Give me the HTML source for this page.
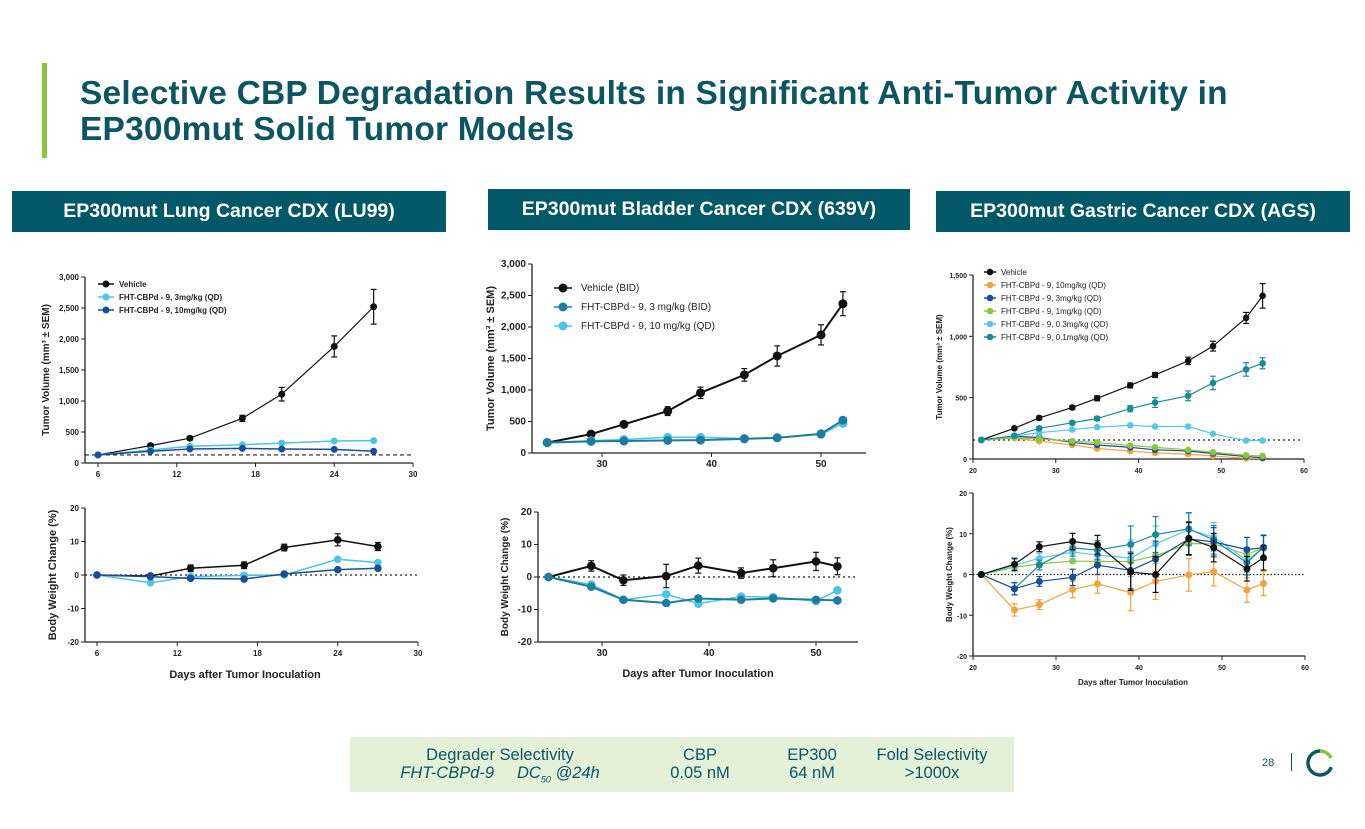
<!DOCTYPE html>
<html><head><meta charset="utf-8">
<style>
body{margin:0;width:1365px;height:829px;background:#fff;font-family:"Liberation Sans",sans-serif;overflow:hidden;position:relative}
.abs{position:absolute}
.title{left:80px;top:76px;font-size:33.5px;font-weight:bold;color:#0d5561;line-height:36px;letter-spacing:0.2px}
.hdr{background:#035868;color:#fff;font-weight:bold;font-size:19.5px;text-align:center;line-height:41px;height:41px}
svg{position:absolute;left:0;top:0}
</style></head><body>
<div class="abs" style="left:42px;top:63px;width:5px;height:95px;background:#8cc63f"></div>
<div class="abs title">Selective CBP Degradation Results in Significant Anti-Tumor Activity in<br>EP300mut Solid Tumor Models</div>
<div class="abs hdr" style="left:12px;top:191px;width:434px">EP300mut Lung Cancer CDX (LU99)</div>
<div class="abs hdr" style="left:488px;top:189px;width:422px">EP300mut Bladder Cancer CDX (639V)</div>
<div class="abs hdr" style="left:936px;top:191px;width:414px">EP300mut Gastric Cancer CDX (AGS)</div>
<div class="abs" style="left:350px;top:737px;width:664px;height:55px;background:#e4f1d9;color:#0d5561;font-size:16.5px">
 <div class="abs" style="left:0;width:300px;top:9px;text-align:center">Degrader Selectivity</div>
 <div class="abs" style="left:0;width:300px;top:27px;text-align:center;font-style:italic">FHT-CBPd-9 &nbsp;&nbsp;&nbsp; DC<sub style="font-size:9px">50</sub> @24h</div>
 <div class="abs" style="left:300px;width:100px;top:9px;text-align:center;line-height:18px">CBP<br>0.05 nM</div>
 <div class="abs" style="left:412px;width:100px;top:9px;text-align:center;line-height:18px">EP300<br>64 nM</div>
 <div class="abs" style="left:515px;width:134px;top:9px;text-align:center;line-height:18px">Fold Selectivity<br>&gt;1000x</div>
</div>
<div class="abs" style="left:1262px;top:757px;font-size:11px;color:#0d5561">28</div>
<div class="abs" style="left:1291px;top:753px;width:1px;height:18px;background:#0d5561"></div>
<svg class="abs" style="left:1304px;top:747px" width="32" height="32"><circle cx="16" cy="16" r="12" fill="none" stroke="#0d5561" stroke-width="3.5" stroke-dasharray="55 30" transform="rotate(20 16 16)"/><path d="M16 4 A12 12 0 0 1 27 11" fill="none" stroke="#8cc63f" stroke-width="3.5"/></svg>
<svg id="ch" width="1365" height="829"></svg>
<script>
// Lung LU99
const lungDays=[6,10,13,17,20,24,27];
const lungTvVeh=[130,280,400,720,1110,1880,2520];
const lungTvVehErr=[0,30,30,50,110,170,280];
const lungTv3=[130,210,270,295,320,355,360];
const lungTv10=[130,190,225,235,225,220,190];
const lungBwVeh=[0,-0.3,2,2.9,8.2,10.5,8.5];
const lungBwVehErr=[0,0.5,1,1,1,1.8,1.2];
const lungBw3=[0,-2.3,-0.5,-0.1,0,4.7,3.7];
const lungBw10=[0,-0.5,-1,-1.2,0.3,1.6,2];
// Bladder 639V
const bladDays=[25,29,32,36,39,43,46,50,52];
const bladTvVeh=[165,300,455,665,955,1240,1540,1875,2370];
const bladTvVehErr=[0,20,40,70,90,100,160,160,190];
const bladTv3=[165,185,190,200,205,225,240,305,520];
const bladTv10=[165,195,215,250,250,230,245,295,470];
const bladBwVeh=[0,3.4,-1,0.3,3.5,1.2,2.7,4.8,3.3];
const bladBwVehErr=[0,1.6,1.6,3.6,2.3,1.6,2.6,2.8,2.6];
const bladBw3=[0,-3,-7,-8,-6.6,-7,-6.6,-7,-7.2];
const bladBw10=[0,-2.3,-7,-5.3,-8.2,-6,-6.2,-7.4,-4.1];
// Gastric AGS
const gasDays=[21,25,28,32,35,39,42,46,49,53,55];
const gasTvVeh=[155,250,335,420,495,600,685,800,920,1150,1330];
const gasTvVehErr=[0,10,15,15,20,20,20,30,40,45,100];
const gasTv10=[155,170,145,115,85,65,50,40,25,5,5];
const gasTv3=[155,185,175,135,115,95,75,65,45,20,10];
const gasTv1=[155,175,165,145,135,110,95,75,55,30,25];
const gasTv03=[155,185,215,240,260,275,265,265,205,150,150];
const gasTv01=[155,190,250,295,330,410,460,515,620,730,780];
const gasTv01Err=[0,10,15,15,15,25,40,40,55,55,45];
const gasBwVeh=[0,2.5,6.8,8.1,7.3,0.6,0,8.9,6.6,1.4,4.1];
const gasBw10=[0,-8.7,-7.4,-3.7,-2.3,-4.4,-1.7,-0.1,0.7,-3.8,-2.2];
const gasBw3=[0,-3.5,-1.7,-0.7,2.3,1,3.8,8.7,8,6.1,6.6];
const gasBw1=[0,1.8,2.6,3.3,3.2,3.2,4.6,7.6,7.5,4.9,6.5];
const gasBw03=[0,2.2,4,5.5,4.8,4,7.5,11,9.2,3.5,6.5];
const gasBw01=[0,-3.5,2.3,6.5,6,7.4,9.8,11.2,8.5,2.9,6.7];
const gasBwErr=[0,1.5,1.2,2,2.3,4.5,4.4,4,3.5,3,3];

const NS='http://www.w3.org/2000/svg';
const svg=document.getElementById('ch');
function el(tag,attrs,parent){const e=document.createElementNS(NS,tag);for(const k in attrs)e.setAttribute(k,attrs[k]);(parent||svg).appendChild(e);return e;}
function txt(x,y,s,size,anchor,parent,extra){const t=el('text',Object.assign({x:x,y:y,'font-size':size,'text-anchor':anchor||'middle','font-family':'Liberation Sans, sans-serif','font-weight':'bold',fill:'#222'},extra||{}),parent);t.textContent=s;return t;}

function chart(c){
  const g=el('g',{});
  
  
  const sx=v=>c.x0+(v-c.d0)/(c.d1-c.d0)*(c.x1-c.x0);
  const sy=v=>c.y0+(v-c.v0)/(c.v1-c.v0)*(c.y1-c.y0);
  const fs=c.fs||9;
  el('line',{x1:c.ax,y1:c.y0,x2:c.ax,y2:c.y1,stroke:'#222','stroke-width':1.3},g);
  el('line',{x1:c.ax,y1:c.axy,x2:c.xend,y2:c.axy,stroke:'#222','stroke-width':1.3},g);
  c.yt.forEach((v,i)=>{const y=sy(v);el('line',{x1:c.ax-4,y1:y,x2:c.ax,y2:y,stroke:'#222'},g);txt(c.ax-6,y+3,c.ytl[i],fs,'end',g);});
  c.xt.forEach(v=>{const x=sx(v);el('line',{x1:x,y1:c.axy,x2:x,y2:c.axy+4,stroke:'#222'},g);txt(x,c.axy+14,String(v),fs,'middle',g);});
  if(c.ref!==undefined){const y=sy(c.ref);el('line',{x1:c.ax,y1:y,x2:c.refEnd||c.xend,y2:y,stroke:'#222','stroke-dasharray':c.refDash||'2,3','stroke-width':1.2},g);}
  c.series.forEach(s=>{
    const sg=el('g',{},g);
    
    
    const pts=s.vals.map((v,i)=>sx(c.days[i])+','+sy(v)).join(' ');
    el('polyline',{points:pts,fill:'none',stroke:s.color,'stroke-width':s.w||1.5},sg);
    s.vals.forEach((v,i)=>{
      const x=sx(c.days[i]),y=sy(v);
      if(s.err&&s.err[i]>0){el('line',{x1:x,y1:sy(v-s.err[i]),x2:x,y2:sy(v+s.err[i]),stroke:s.color,'stroke-width':1.2},sg);
        [v-s.err[i],v+s.err[i]].forEach(e=>el('line',{x1:x-3,y1:sy(e),x2:x+3,y2:sy(e),stroke:s.color,'stroke-width':1.2},sg));}
      const m=el('circle',{cx:x,cy:y,r:s.r||c.r||4,fill:s.color},sg);
      
      
    });
  });
  if(c.ylab){txt(0,0,c.ylab,c.ylfs||10,'middle',g,{transform:'translate('+c.ylx+','+((c.y0+c.y1)/2)+') rotate(-90)'});}
  if(c.xlab){txt(c.xlx,c.xly,c.xlab,c.xlfs||11,'middle',g);}
  if(c.legend){c.legend.forEach((l,i)=>{const y=c.lgy+i*c.lgdy;
    el('line',{x1:c.lgx,y1:y,x2:c.lgx+(c.lgw||16),y2:y,stroke:l[1],'stroke-width':1.5},g);
    el('circle',{cx:c.lgx+(c.lgw||16)/2,cy:y,r:c.r||4,fill:l[1]},g);
    const t=txt(c.lgx+(c.lgw||16)+c.lgtx,y+3,l[0],c.lgfs||8,'start',g,{'font-weight':c.lgbold?'bold':'normal'});
    
    
  });}
}
const BK='#111',LB='#4fc3e6',NV='#1a4f98',TL='#1c7d9e',OR='#f0a43c',GR='#8cc63f',LB2='#5cc6ea',TQ='#198a98';

chart({name:'lung-tumor-volume-chart',days:lungDays,d0:6,d1:30,x0:98,x1:413,v0:0,v1:3000,y0:463,y1:277,ax:85,axy:463,xend:413,
 yt:[0,500,1000,1500,2000,2500,3000],ytl:['0','500','1,000','1,500','2,000','2,500','3,000'],xt:[6,12,18,24,30],fs:8,ref:130,refDash:'4,3',
 series:[{name:'lung-vehicle',vals:lungTvVeh,err:lungTvVehErr,color:BK,w:1.2},{name:'lung-3mg',vals:lungTv3,color:LB},{name:'lung-10mg',vals:lungTv10,color:NV}],
 ylab:'Tumor Volume (mm³ ± SEM)',ylx:49,ylfs:10,legend:[['Vehicle',BK],['FHT-CBPd - 9, 3mg/kg (QD)',LB],['FHT-CBPd - 9, 10mg/kg (QD)',NV]],lgx:98,lgy:284,lgdy:13,lgtx:5,lgfs:8,lgbold:1,r:3.5});
chart({name:'lung-body-weight-chart',days:lungDays,d0:6,d1:30,x0:97,x1:418,v0:20,v1:-20,y0:508,y1:642,ax:85,axy:642,xend:418,
 yt:[20,10,0,-10,-20],ytl:['20','10','0','-10','-20'],xt:[6,12,18,24,30],fs:8,ref:0,
 series:[{name:'lung-bw-vehicle',vals:lungBwVeh,err:lungBwVehErr,color:BK},{name:'lung-bw-3mg',vals:lungBw3,color:LB},{name:'lung-bw-10mg',vals:lungBw10,color:NV}],
 ylab:'Body Weight Change (%)',ylx:56,ylfs:11,xlab:'Days after Tumor Inoculation',xlx:245,xly:678,xlfs:11,r:3.8});
chart({name:'bladder-tumor-volume-chart',days:bladDays,d0:30,d1:50,x0:602,x1:821,v0:0,v1:3000,y0:453,y1:264,ax:532,axy:453,xend:866,
 yt:[0,500,1000,1500,2000,2500,3000],ytl:['0','500','1,000','1,500','2,000','2,500','3,000'],xt:[30,40,50],fs:10,
 series:[{name:'bladder-vehicle',vals:bladTvVeh,err:bladTvVehErr,color:BK,w:2},{name:'bladder-10mg',vals:bladTv10,color:LB},{name:'bladder-3mg',vals:bladTv3,color:TL,w:2}],
 ylab:'Tumor Volume (mm³ ± SEM)',ylx:494,ylfs:11,legend:[['Vehicle (BID)',BK],['FHT-CBPd - 9, 3 mg/kg (BID)',TL],['FHT-CBPd - 9, 10 mg/kg (QD)',LB]],lgx:554,lgy:288,lgdy:19,lgw:18,lgtx:9,lgfs:10,r:4.5});
chart({name:'bladder-body-weight-chart',days:bladDays,d0:30,d1:50,x0:602,x1:816,v0:20,v1:-20,y0:512,y1:642,ax:538,axy:642,xend:858,
 yt:[20,10,0,-10,-20],ytl:['20','10','0','-10','-20'],xt:[30,40,50],fs:10,ref:0,
 series:[{name:'bladder-bw-vehicle',vals:bladBwVeh,err:bladBwVehErr,color:BK,w:2},{name:'bladder-bw-10mg',vals:bladBw10,color:LB},{name:'bladder-bw-3mg',vals:bladBw3,color:TL,w:2}],
 ylab:'Body Weight Change (%)',ylx:508,ylfs:10,xlab:'Days after Tumor Inoculation',xlx:698,xly:677,xlfs:11,r:4.3});
chart({name:'gastric-tumor-volume-chart',days:gasDays,d0:20,d1:60,x0:973,x1:1304,v0:0,v1:1500,y0:459,y1:275,ax:973,axy:459,xend:1304,
 yt:[0,500,1000,1500],ytl:['0','500','1,000','1,500'],xt:[20,30,40,50,60],fs:7,ref:155,refEnd:1300,
 series:[{name:'gastric-vehicle',vals:gasTvVeh,err:gasTvVehErr,color:BK,w:1.2},{name:'gastric-10mg',vals:gasTv10,color:OR,w:1.2},{name:'gastric-3mg',vals:gasTv3,color:NV,w:1.2},{name:'gastric-1mg',vals:gasTv1,color:GR,w:1.2},{name:'gastric-0.3mg',vals:gasTv03,color:LB2,w:1.2},{name:'gastric-0.1mg',vals:gasTv01,err:gasTv01Err,color:TQ,w:1.2}],
 ylab:'Tumor Volume (mm³ ± SEM)',ylx:942,ylfs:8,legend:[['Vehicle',BK],['FHT-CBPd - 9, 10mg/kg (QD)',OR],['FHT-CBPd - 9, 3mg/kg (QD)',NV],['FHT-CBPd - 9, 1mg/kg (QD)',GR],['FHT-CBPd - 9, 0.3mg/kg (QD)',LB2],['FHT-CBPd - 9, 0.1mg/kg (QD)',TQ]],lgx:984,lgy:272,lgdy:13,lgw:12,lgtx:5,lgfs:8,r:3.3});
chart({name:'gastric-body-weight-chart',days:gasDays,d0:20,d1:60,x0:973,x1:1305,v0:20,v1:-20,y0:493,y1:656,ax:973,axy:656,xend:1305,
 yt:[20,10,0,-10,-20],ytl:['20','10','0','-10','-20'],xt:[20,30,40,50,60],fs:7,ref:0,refDash:'1.5,2',
 series:[{name:'gastric-bw-10mg',vals:gasBw10,err:gasBwErr,color:OR,w:1.2},{name:'gastric-bw-1mg',vals:gasBw1,color:GR,w:1.2},{name:'gastric-bw-0.3mg',vals:gasBw03,err:gasBwErr,color:LB2,w:1.2},{name:'gastric-bw-0.1mg',vals:gasBw01,err:gasBwErr,color:TQ,w:1.2},{name:'gastric-bw-3mg',vals:gasBw3,err:gasBwErr,color:NV,w:1.2},{name:'gastric-bw-vehicle',vals:gasBwVeh,err:gasBwErr,color:BK,w:1.2}],
 ylab:'Body Weight Change (%)',ylx:952,ylfs:8,xlab:'Days after Tumor Inoculation',xlx:1133,xly:685,xlfs:8,r:3.5});
</script>
</body></html>
